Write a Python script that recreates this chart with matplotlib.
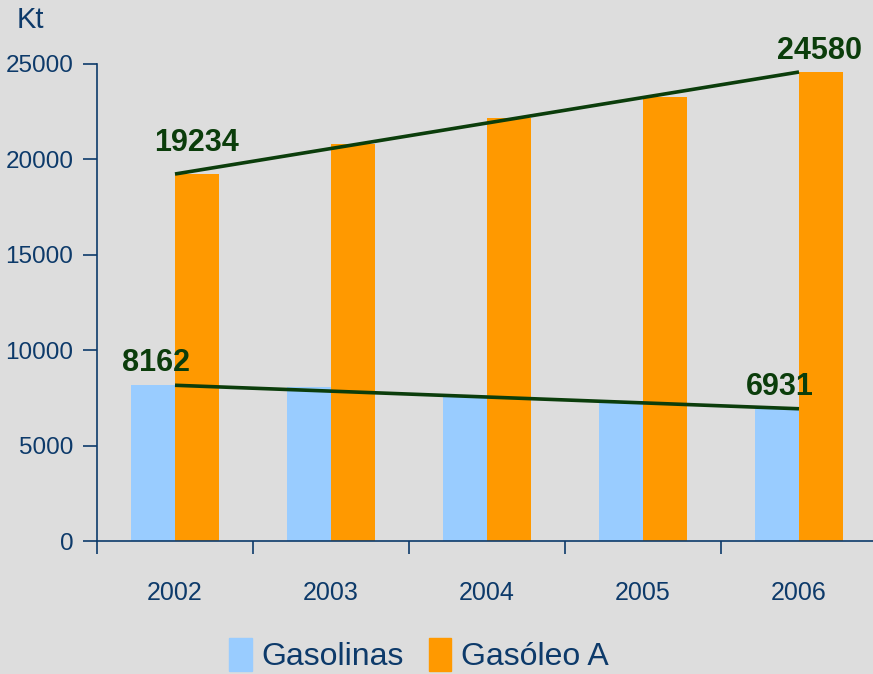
import matplotlib

matplotlib.use("Agg")
import matplotlib.pyplot as plt
import numpy as np
from matplotlib.patches import Patch

# ------------------------------------------------------------------ #
# Data (Kt)
# ------------------------------------------------------------------ #
years = ["2002", "2003", "2004", "2005", "2006"]
gasolinas = [8162, 8060, 7660, 7350, 6931]
gasoleo_a = [19234, 20800, 22170, 23270, 24580]
y_ticks = [0, 5000, 10000, 15000, 20000, 25000]

BG = "#dddddd"
BLUE = "#99ccff"
ORANGE = "#ff9900"
TEXT = "#0d3a6a"
GREEN = "#0b3d0b"
FONT = ["Liberation Sans", "DejaVu Sans"]

fig = plt.figure(figsize=(8.73, 6.74), dpi=100, facecolor=BG)
ax = fig.add_axes([97 / 873, 133 / 674, 780 / 873, 477 / 674])
ax.set_facecolor(BG)

x = np.arange(len(years))
width = 0.285
ax.bar(x - width / 2, gasolinas, width, color=BLUE, label="Gasolinas")
ax.bar(x + width / 2, gasoleo_a, width, color=ORANGE, label="Gasóleo A")

# trend lines between the first and last year
ax.plot([x[0], x[-1]], [gasoleo_a[0], gasoleo_a[-1]], color=GREEN, lw=2.6, solid_capstyle="butt")
ax.plot([x[0], x[-1]], [gasolinas[0], gasolinas[-1]], color=GREEN, lw=2.6, solid_capstyle="butt")

lab = dict(color=GREEN, fontsize=22, fontweight="bold", family=FONT, ha="center", va="center")
ax.text(x[0] + 0.14, gasoleo_a[0] + 1650, str(gasoleo_a[0]), **lab)
ax.text(x[-1] + 0.13, gasoleo_a[-1] + 1100, str(gasoleo_a[-1]), **lab)
ax.text(x[0] - 0.12, gasolinas[0] + 1150, str(gasolinas[0]), **lab)
ax.text(x[-1] - 0.12, gasolinas[-1] + 1150, str(gasolinas[-1]), **lab)

ax.set_xlim(-0.5, len(years) - 0.5)
ax.set_ylim(0, 25000)
ax.set_yticks(y_ticks)
ax.set_yticklabels([str(v) for v in y_ticks], family=FONT, fontsize=17.5, color=TEXT)
ax.set_xticks(np.arange(len(years) + 1) - 0.5)
ax.set_xticklabels([])
ax.set_xticks(x, minor=True)
ax.set_xticklabels(years, minor=True, family=FONT, fontsize=18, color=TEXT)
ax.tick_params(axis="x", which="major", length=9, width=1.2, color=TEXT, direction="out")
ax.tick_params(axis="x", which="minor", length=0, pad=29)
ax.tick_params(axis="y", length=10, width=1.2, color=TEXT, pad=7)

for side in ("top", "right"):
    ax.spines[side].set_visible(False)
for side in ("left", "bottom"):
    ax.spines[side].set_color(TEXT)
    ax.spines[side].set_linewidth(1.2)
ax.spines["bottom"].set_clip_on(False)

fig.text(30 / 873, 1 - 20 / 674, "Kt", family=FONT, fontsize=21, color=TEXT,
         ha="center", va="center")

handles = [Patch(color=BLUE), Patch(color=ORANGE)]
fig.legend(handles, ["Gasolinas", "Gasóleo A"], loc="center", bbox_to_anchor=(0.48, 1 - 655 / 674),
           ncol=2, frameon=False, prop={"family": FONT, "size": 23},
           labelcolor=TEXT, handlelength=0.7, handleheight=1.2, handletextpad=0.3,
           columnspacing=0.8, borderpad=0.2)

fig.savefig("out.png", dpi=100, facecolor=BG)
